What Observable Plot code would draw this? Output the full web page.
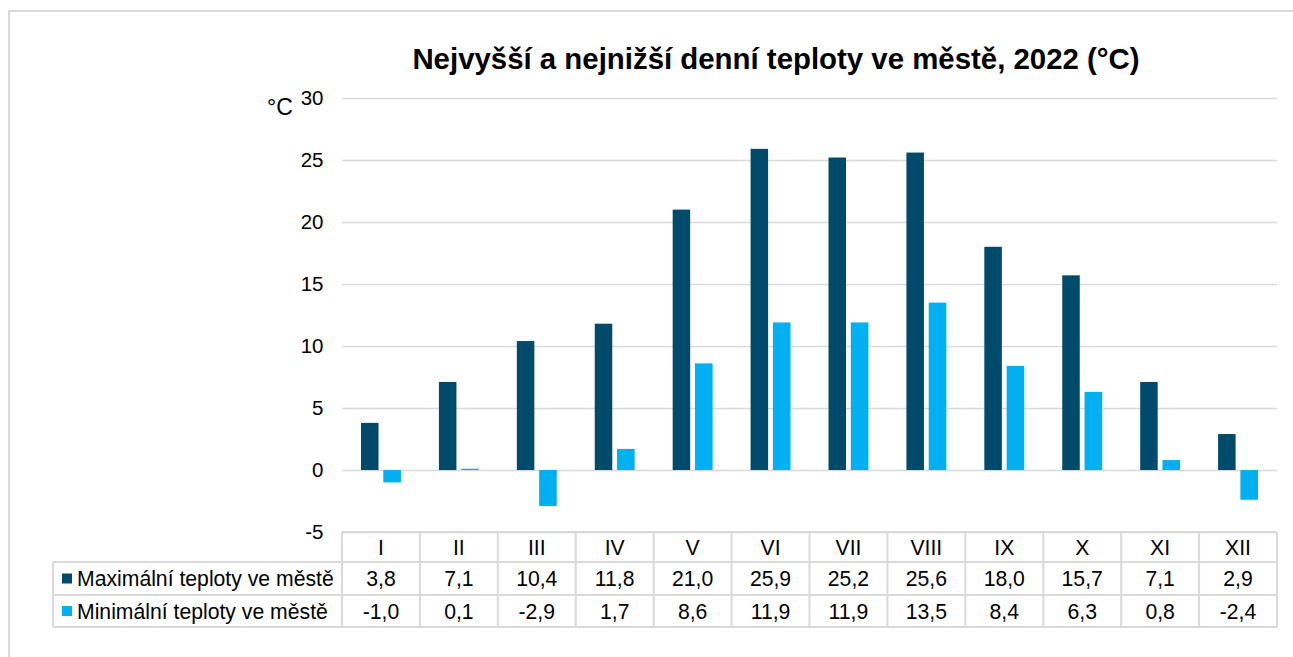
<!DOCTYPE html>
<html>
<head>
<meta charset="utf-8">
<script src="https://cdn.jsdelivr.net/npm/d3@7"></script>
<script src="https://cdn.jsdelivr.net/npm/@observablehq/plot@0.6"></script>
<style>
  html, body { margin: 0; padding: 0; background: #fff; }
</style>
</head>
<body>
<div id="chart"></div>
<script>
const months = ["I","II","III","IV","V","VI","VII","VIII","IX","X","XI","XII"];
const maxTemps = [3.8, 7.1, 10.4, 11.8, 21.0, 25.9, 25.2, 25.6, 18.0, 15.7, 7.1, 2.9];
const minTemps = [-1.0, 0.1, -2.9, 1.7, 8.6, 11.9, 11.9, 13.5, 8.4, 6.3, 0.8, -2.4];
const seriesNames = ["Maximální teploty ve městě", "Minimální teploty ve městě"];
const seriesColors = ["#004B6B", "#00B0F0"];
const yTicks = [-5, 0, 5, 10, 15, 20, 25, 30];
const titleText = "Nejvyšší a nejnižší denní teploty ve městě, 2022 (°C)";
const unitText = "°C";

const maxData = months.map((m, i) => ({month: m, value: maxTemps[i]}));
const minData = months.map((m, i) => ({month: m, value: minTemps[i]}));
const fmt = v => v.toFixed(1).replace(".", ",");

const W = 1293, H = 657;
const FONT = "'Liberation Sans', Arial, sans-serif";
const grid = "#d9d9d9";

const plot = Plot.plot({
  width: W,
  height: H,
  marginLeft: 342,
  marginRight: 16,
  marginTop: 98,
  marginBottom: 125,
  style: {fontFamily: FONT, fontSize: "20.5px", color: "#000", background: "#fff"},
  x: {domain: months, padding: 0, round: false, axis: null},
  y: {domain: [-5, 30], label: null},
  marks: [
    Plot.gridY(yTicks, {stroke: grid, strokeOpacity: 1, strokeWidth: 1.5}),
    Plot.axisY(yTicks, {tickSize: 0, tickPadding: 19, tickFormat: d => String(d), label: null, fontSize: 20.5, fill: "#000"}),
    Plot.barY(maxData, {x: "month", y: "value", fill: seriesColors[0], insetLeft: 19, insetRight: 41.4}),
    Plot.barY(minData, {x: "month", y: "value", fill: seriesColors[1], insetLeft: 41.3, insetRight: 19})
  ]
});

const svg = d3.select(plot);
const xs = plot.scale("x");
const bw = xs.bandwidth;
const left = xs.apply(months[0]);
const right = xs.apply(months[months.length - 1]) + bw;

// outer chart frame
svg.insert("rect", ":first-child")
  .attr("x", 9).attr("y", 11).attr("width", W + 20).attr("height", H + 20)
  .attr("fill", "#fff").attr("stroke", grid).attr("stroke-width", 2);

// title
svg.append("text")
  .attr("x", 776).attr("y", 69)
  .attr("text-anchor", "middle")
  .attr("font-family", FONT).attr("font-size", 29.4).attr("font-weight", "bold")
  .text(titleText);

// unit label
svg.append("text")
  .attr("x", 280).attr("y", 115)
  .attr("text-anchor", "middle")
  .attr("font-family", FONT).attr("font-size", 23)
  .text(unitText);

// data table
const rowY = [532, 562, 595, 627];
const labelLeft = 53;
const g = svg.append("g").attr("stroke", grid).attr("stroke-width", 2).attr("fill", "none");
g.append("line").attr("x1", left).attr("x2", right).attr("y1", rowY[0]).attr("y2", rowY[0]);
for (let r = 1; r < rowY.length; r++) {
  g.append("line").attr("x1", labelLeft).attr("x2", right).attr("y1", rowY[r]).attr("y2", rowY[r]);
}
months.forEach(m => {
  const xx = xs.apply(m);
  g.append("line").attr("x1", xx).attr("x2", xx).attr("y1", rowY[0]).attr("y2", rowY[3]);
});
g.append("line").attr("x1", right).attr("x2", right).attr("y1", rowY[0]).attr("y2", rowY[3]);
g.append("line").attr("x1", labelLeft).attr("x2", labelLeft).attr("y1", rowY[1]).attr("y2", rowY[3]);

const tg = svg.append("g").attr("font-family", FONT).attr("font-size", 21.2).attr("fill", "#000");
const rowsVals = [maxTemps, minTemps];
months.forEach((m, i) => {
  const cx = xs.apply(m) + bw / 2;
  tg.append("text").attr("x", cx).attr("y", (rowY[0] + rowY[1]) / 2).attr("dy", "0.36em")
    .attr("text-anchor", "middle").text(m);
  rowsVals.forEach((vals, r) => {
    tg.append("text").attr("x", cx).attr("y", (rowY[r + 1] + rowY[r + 2]) / 2).attr("dy", "0.36em")
      .attr("text-anchor", "middle").text(fmt(vals[i]));
  });
});
seriesNames.forEach((name, r) => {
  const cy = (rowY[r + 1] + rowY[r + 2]) / 2;
  svg.append("rect").attr("x", 62).attr("y", cy - 5).attr("width", 10).attr("height", 10).attr("fill", seriesColors[r]);
  tg.append("text").attr("x", 77).attr("y", cy).attr("dy", "0.36em")
    .attr("text-anchor", "start").text(name);
});

document.getElementById("chart").appendChild(plot);
</script>
</body>
</html>
